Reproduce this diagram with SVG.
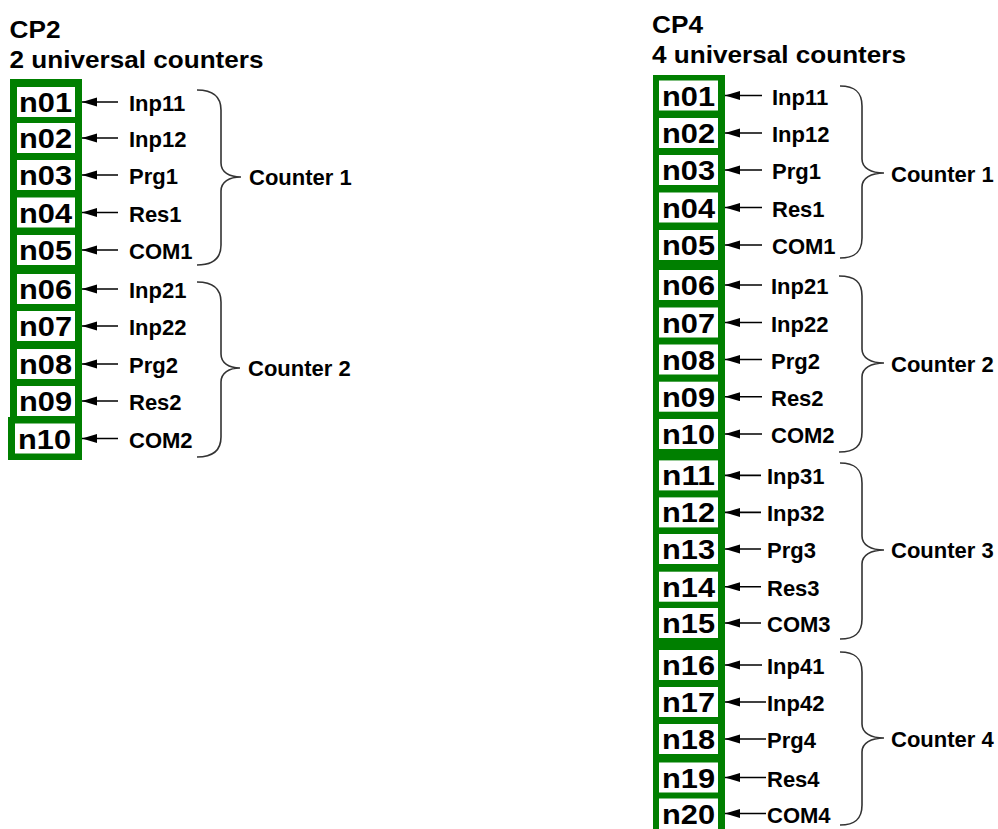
<svg xmlns="http://www.w3.org/2000/svg" width="998" height="829" viewBox="0 0 998 829">
<style>
text{font-family:"Liberation Sans",Arial,sans-serif;font-weight:bold;fill:#000}
.t{font-size:24px}
.n{font-size:27px}
.l{font-size:22px}
.col{fill:#007f00}
.box{fill:#fff}
.br{fill:none;stroke:#333;stroke-width:1.6}
.ar{stroke:#000;stroke-width:1.6;marker-end:url(#ah)}
</style>
<defs>
<marker id="ah" markerUnits="userSpaceOnUse" markerWidth="16" markerHeight="10" refX="15" refY="4.5" orient="auto">
<path d="M0,0 L15,4.5 L0,9 z" fill="#000"/>
</marker>
</defs>
<rect width="998" height="829" fill="#fff"/>
<g id="titles">
<text class="t" x="9.5" y="38" textLength="51" lengthAdjust="spacingAndGlyphs">CP2</text>
<text class="t" x="9.5" y="68" textLength="254" lengthAdjust="spacingAndGlyphs">2 universal counters</text>
<text class="t" x="652" y="33" textLength="51" lengthAdjust="spacingAndGlyphs">CP4</text>
<text class="t" x="652" y="63" textLength="254" lengthAdjust="spacingAndGlyphs">4 universal counters</text>
</g>
<g id="columns">
<rect class="col" x="10" y="79" width="72" height="340"/>
<rect class="col" x="8" y="417" width="74" height="43"/>
<rect class="col" x="653" y="75" width="72" height="760"/>
</g>
<g id="cp2-nodes">
<g id="L-n01"><rect class="box" x="17" y="87" width="58" height="30"/><text class="n" x="19" y="112" textLength="53" lengthAdjust="spacingAndGlyphs">n01</text></g>
<g id="L-n02"><rect class="box" x="17" y="123" width="58" height="30"/><text class="n" x="19" y="148" textLength="53" lengthAdjust="spacingAndGlyphs">n02</text></g>
<g id="L-n03"><rect class="box" x="17" y="160" width="58" height="30"/><text class="n" x="19" y="185" textLength="53" lengthAdjust="spacingAndGlyphs">n03</text></g>
<g id="L-n04"><rect class="box" x="17" y="197.5" width="58" height="30"/><text class="n" x="19" y="222.5" textLength="53" lengthAdjust="spacingAndGlyphs">n04</text></g>
<g id="L-n05"><rect class="box" x="17" y="235" width="58" height="30"/><text class="n" x="19" y="260" textLength="53" lengthAdjust="spacingAndGlyphs">n05</text></g>
<g id="L-n06"><rect class="box" x="17" y="274" width="58" height="30"/><text class="n" x="19" y="299" textLength="53" lengthAdjust="spacingAndGlyphs">n06</text></g>
<g id="L-n07"><rect class="box" x="17" y="311" width="58" height="30"/><text class="n" x="19" y="336" textLength="53" lengthAdjust="spacingAndGlyphs">n07</text></g>
<g id="L-n08"><rect class="box" x="17" y="349" width="58" height="30"/><text class="n" x="19" y="374" textLength="53" lengthAdjust="spacingAndGlyphs">n08</text></g>
<g id="L-n09"><rect class="box" x="17" y="386" width="58" height="30"/><text class="n" x="19" y="411" textLength="53" lengthAdjust="spacingAndGlyphs">n09</text></g>
<g id="L-n10"><rect class="box" x="15" y="423.5" width="60" height="30"/><text class="n" x="18" y="448.5" textLength="53" lengthAdjust="spacingAndGlyphs">n10</text></g>
</g>
<g id="cp2-labels">
<text class="l" x="129" y="111">Inp11</text>
<text class="l" x="129" y="147">Inp12</text>
<text class="l" x="129" y="184">Prg1</text>
<text class="l" x="129" y="221.5">Res1</text>
<text class="l" x="129" y="259">COM1</text>
<text class="l" x="129" y="298">Inp21</text>
<text class="l" x="129" y="335">Inp22</text>
<text class="l" x="129" y="373">Prg2</text>
<text class="l" x="129" y="410">Res2</text>
<text class="l" x="129" y="447.5">COM2</text>
<text class="l" x="249" y="185">Counter 1</text>
<text class="l" x="248" y="376">Counter 2</text>
</g>
<g id="cp4-nodes">
<g id="R-n01"><rect class="box" x="659" y="80.5" width="59" height="30"/><text class="n" x="662" y="105.5" textLength="53" lengthAdjust="spacingAndGlyphs">n01</text></g>
<g id="R-n02"><rect class="box" x="659" y="118" width="59" height="30"/><text class="n" x="662" y="143" textLength="53" lengthAdjust="spacingAndGlyphs">n02</text></g>
<g id="R-n03"><rect class="box" x="659" y="155" width="59" height="30"/><text class="n" x="662" y="180" textLength="53" lengthAdjust="spacingAndGlyphs">n03</text></g>
<g id="R-n04"><rect class="box" x="659" y="192.5" width="59" height="30"/><text class="n" x="662" y="217.5" textLength="53" lengthAdjust="spacingAndGlyphs">n04</text></g>
<g id="R-n05"><rect class="box" x="659" y="230" width="59" height="30"/><text class="n" x="662" y="255" textLength="53" lengthAdjust="spacingAndGlyphs">n05</text></g>
<g id="R-n06"><rect class="box" x="659" y="270" width="59" height="30"/><text class="n" x="662" y="295" textLength="53" lengthAdjust="spacingAndGlyphs">n06</text></g>
<g id="R-n07"><rect class="box" x="659" y="307.5" width="59" height="30"/><text class="n" x="662" y="332.5" textLength="53" lengthAdjust="spacingAndGlyphs">n07</text></g>
<g id="R-n08"><rect class="box" x="659" y="344.5" width="59" height="30"/><text class="n" x="662" y="369.5" textLength="53" lengthAdjust="spacingAndGlyphs">n08</text></g>
<g id="R-n09"><rect class="box" x="659" y="381.7" width="59" height="30"/><text class="n" x="662" y="406.7" textLength="53" lengthAdjust="spacingAndGlyphs">n09</text></g>
<g id="R-n10"><rect class="box" x="659" y="419" width="59" height="30"/><text class="n" x="662" y="444" textLength="53" lengthAdjust="spacingAndGlyphs">n10</text></g>
<g id="R-n11"><rect class="box" x="659" y="460.4" width="59" height="30"/><text class="n" x="662" y="485.4" textLength="53" lengthAdjust="spacingAndGlyphs">n11</text></g>
<g id="R-n12"><rect class="box" x="659" y="497.4" width="59" height="30"/><text class="n" x="662" y="522.4" textLength="53" lengthAdjust="spacingAndGlyphs">n12</text></g>
<g id="R-n13"><rect class="box" x="659" y="534" width="59" height="30"/><text class="n" x="662" y="559" textLength="53" lengthAdjust="spacingAndGlyphs">n13</text></g>
<g id="R-n14"><rect class="box" x="659" y="571.7" width="59" height="30"/><text class="n" x="662" y="596.7" textLength="53" lengthAdjust="spacingAndGlyphs">n14</text></g>
<g id="R-n15"><rect class="box" x="659" y="608" width="59" height="30"/><text class="n" x="662" y="633" textLength="53" lengthAdjust="spacingAndGlyphs">n15</text></g>
<g id="R-n16"><rect class="box" x="659" y="650" width="59" height="30"/><text class="n" x="662" y="675" textLength="53" lengthAdjust="spacingAndGlyphs">n16</text></g>
<g id="R-n17"><rect class="box" x="659" y="687" width="59" height="30"/><text class="n" x="662" y="712" textLength="53" lengthAdjust="spacingAndGlyphs">n17</text></g>
<g id="R-n18"><rect class="box" x="659" y="724" width="59" height="30"/><text class="n" x="662" y="749" textLength="53" lengthAdjust="spacingAndGlyphs">n18</text></g>
<g id="R-n19"><rect class="box" x="659" y="762.5" width="59" height="30"/><text class="n" x="662" y="787.5" textLength="53" lengthAdjust="spacingAndGlyphs">n19</text></g>
<g id="R-n20"><rect class="box" x="659" y="798.5" width="59" height="31"/><text class="n" x="662" y="823.5" textLength="53" lengthAdjust="spacingAndGlyphs">n20</text></g>
</g>
<g id="cp4-labels">
<text class="l" x="772" y="104.5">Inp11</text>
<text class="l" x="772" y="142">Inp12</text>
<text class="l" x="772" y="179">Prg1</text>
<text class="l" x="772" y="216.5">Res1</text>
<text class="l" x="772" y="254">COM1</text>
<text class="l" x="771" y="294">Inp21</text>
<text class="l" x="771" y="331.5">Inp22</text>
<text class="l" x="771" y="368.5">Prg2</text>
<text class="l" x="771" y="405.7">Res2</text>
<text class="l" x="771" y="443">COM2</text>
<text class="l" x="767" y="484.4">Inp31</text>
<text class="l" x="767" y="521.4">Inp32</text>
<text class="l" x="767" y="558">Prg3</text>
<text class="l" x="767" y="595.7">Res3</text>
<text class="l" x="767" y="632">COM3</text>
<text class="l" x="767" y="674">Inp41</text>
<text class="l" x="767" y="711">Inp42</text>
<text class="l" x="767" y="748">Prg4</text>
<text class="l" x="767" y="786.5">Res4</text>
<text class="l" x="767" y="822.5">COM4</text>
<text class="l" x="891" y="181.5">Counter 1</text>
<text class="l" x="891" y="371.5">Counter 2</text>
<text class="l" x="891" y="558">Counter 3</text>
<text class="l" x="891" y="746.5">Counter 4</text>
</g>
<g id="connectors">
<line class="ar" x1="118" y1="102" x2="82" y2="102"/>
<line class="ar" x1="118" y1="138" x2="82" y2="138"/>
<line class="ar" x1="118" y1="175" x2="82" y2="175"/>
<line class="ar" x1="118" y1="212.5" x2="82" y2="212.5"/>
<line class="ar" x1="118" y1="250" x2="82" y2="250"/>
<line class="ar" x1="118" y1="289" x2="82" y2="289"/>
<line class="ar" x1="118" y1="326" x2="82" y2="326"/>
<line class="ar" x1="118" y1="364" x2="82" y2="364"/>
<line class="ar" x1="118" y1="401" x2="82" y2="401"/>
<line class="ar" x1="118" y1="438.5" x2="82" y2="438.5"/>
<line class="ar" x1="762" y1="95.5" x2="725" y2="95.5"/>
<line class="ar" x1="762" y1="133" x2="725" y2="133"/>
<line class="ar" x1="762" y1="170" x2="725" y2="170"/>
<line class="ar" x1="762" y1="207.5" x2="725" y2="207.5"/>
<line class="ar" x1="762" y1="245" x2="725" y2="245"/>
<line class="ar" x1="762" y1="285" x2="725" y2="285"/>
<line class="ar" x1="762" y1="322.5" x2="725" y2="322.5"/>
<line class="ar" x1="762" y1="359.5" x2="725" y2="359.5"/>
<line class="ar" x1="762" y1="396.7" x2="725" y2="396.7"/>
<line class="ar" x1="762" y1="434" x2="725" y2="434"/>
<line class="ar" x1="761" y1="475.4" x2="725" y2="475.4"/>
<line class="ar" x1="761" y1="512.4" x2="725" y2="512.4"/>
<line class="ar" x1="761" y1="549" x2="725" y2="549"/>
<line class="ar" x1="761" y1="586.7" x2="725" y2="586.7"/>
<line class="ar" x1="761" y1="623" x2="725" y2="623"/>
<line class="ar" x1="762" y1="665" x2="725" y2="665"/>
<line class="ar" x1="766" y1="702" x2="725" y2="702"/>
<line class="ar" x1="766" y1="739" x2="725" y2="739"/>
<line class="ar" x1="766" y1="777.5" x2="725" y2="777.5"/>
<line class="ar" x1="766" y1="813.5" x2="725" y2="813.5"/>
</g>
<g id="braces">
<path class="br" d="M197,90 C213,90 221,96 221,110 L221,163 C221,172 229,177 241,177 C229,177 221,182 221,191 L221,245 C221,259 213,265 197,265"/>
<path class="br" d="M197,282 C213,282 221,288 221,302 L221,354 C221,363 229,368 240,368 C229,368 221,373 221,382 L221,437 C221,451 213,457 197,457"/>
<path class="br" d="M840,86 C855,86 862,92 862,106 L862,159 C862,168 871,173 884,173 C871,173 862,178 862,187 L862,238 C862,252 855,258 840,258"/>
<path class="br" d="M839,276 C855,276 862,282 862,296 L862,349 C862,358 871,363 884,363 C871,363 862,368 862,377 L862,432 C862,446 855,452 839,452"/>
<path class="br" d="M840,463 C855,463 862,469 862,483 L862,536 C862,545 871,550 884,550 C871,550 862,555 862,564 L862,619 C862,633 855,639 840,639"/>
<path class="br" d="M840,652 C855,652 862,658 862,672 L862,724 C862,733 871,738 884,738 C871,738 862,743 862,752 L862,805 C862,819 855,825 840,825"/>
</g>
</svg>
